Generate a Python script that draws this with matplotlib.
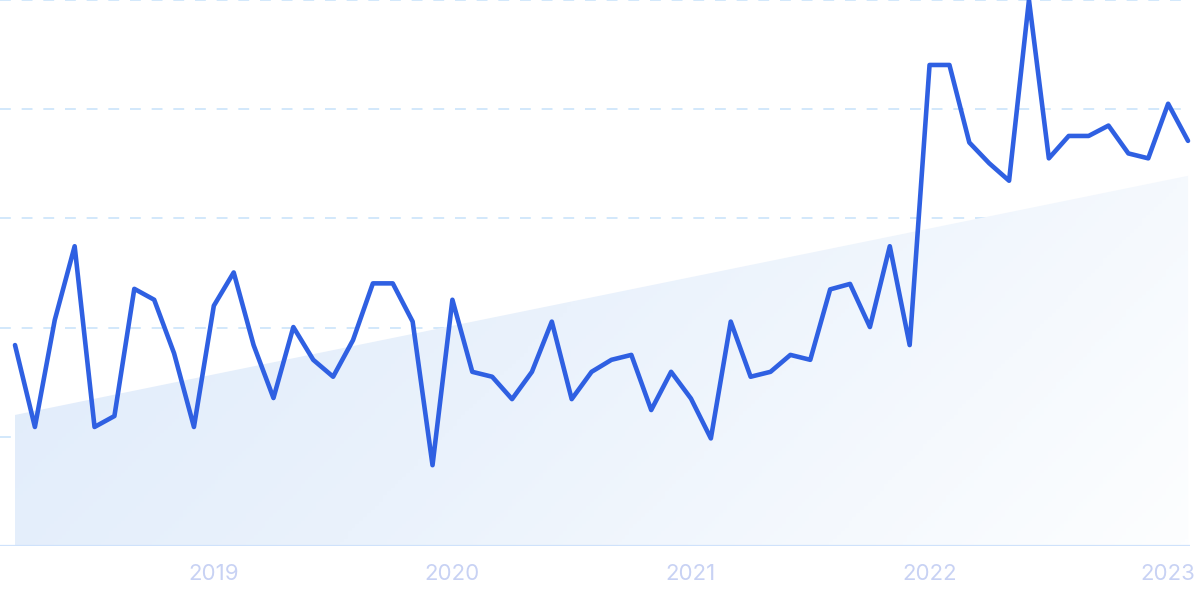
import numpy as np
import matplotlib
matplotlib.use("Agg")
import matplotlib.pyplot as plt
from matplotlib.patches import Polygon
from matplotlib.colors import LinearSegmentedColormap

# ---- data ----
values = [36.8, 21.8, 41.4, 54.9, 21.8, 23.8, 47.1, 45.1, 35.3, 21.8,
          44.0, 50.1, 36.8, 27.1, 40.1, 34.1, 31.0, 37.7, 48.1, 48.1,
          41.1, 14.8, 45.1, 31.9, 31.0, 26.9, 31.9, 41.1, 26.9, 31.9,
          34.1, 35.0, 24.9, 31.9, 27.0, 19.7, 41.1, 31.0, 31.9, 35.0,
          34.1, 47.0, 48.0, 40.1, 54.9, 36.8, 88.1, 88.1, 73.9, 70.1,
          66.9, 100.0, 71.0, 75.1, 75.1, 77.0, 71.9, 71.0, 81.0, 74.2]
trend_start = 24.0
trend_end = 67.8
tick_labels = ["2019", "2020", "2021", "2022", "2023"]
tick_index = [10, 22, 34, 46, 58]
grid_values = [20, 40, 60, 80, 100]

plt.rcParams['font.family'] = ['Inter', 'DejaVu Sans']

fig = plt.figure(figsize=(12, 5.99), dpi=100)
ax = fig.add_axes([0, 53 / 599, 1190 / 1200, 546 / 599])

n = len(values)
x = np.arange(n)
ax.set_xlim(-0.755, 59.1)
ax.set_ylim(0, 100)

# gradient trend area
grad_cmap = LinearSegmentedColormap.from_list("g", ["#dce9fa", "#eaf2fc", "#fdfeff"])
gx, gy = np.meshgrid(np.linspace(0, 1, 300), np.linspace(0, 1, 150))
gz = (gx + gy * 0.45) / 1.45
im = ax.imshow(gz, cmap=grad_cmap, extent=[0, n - 1, 0, 100], origin="upper",
               aspect="auto", zorder=1, vmin=0, vmax=1)
poly = Polygon([[0, 0], [0, trend_start], [n - 1, trend_end], [n - 1, 0]],
               closed=True, facecolor="none", edgecolor="none", transform=ax.transData)
ax.add_patch(poly)
im.set_clip_path(poly)

# grid
for g in grid_values:
    ax.axhline(g, color="#cfe6fb", lw=1.3, ls=(0, (6, 6)), zorder=0.5)
ax.axhline(0, color="#cfe2fb", lw=1.6, zorder=2)

# line
ax.plot(x, values, color="#2f60e2", lw=3.3, solid_joinstyle="round",
        solid_capstyle="round", zorder=3, clip_on=False)

ax.set_xticks(tick_index)
ax.set_xticklabels(tick_labels)
ax.tick_params(axis="x", length=0, pad=13, labelsize=16, labelcolor="#c8d2f4")
ax.set_yticks([])
for s in ax.spines.values():
    s.set_visible(False)

fig.savefig("out.png", dpi=100, facecolor="white")
